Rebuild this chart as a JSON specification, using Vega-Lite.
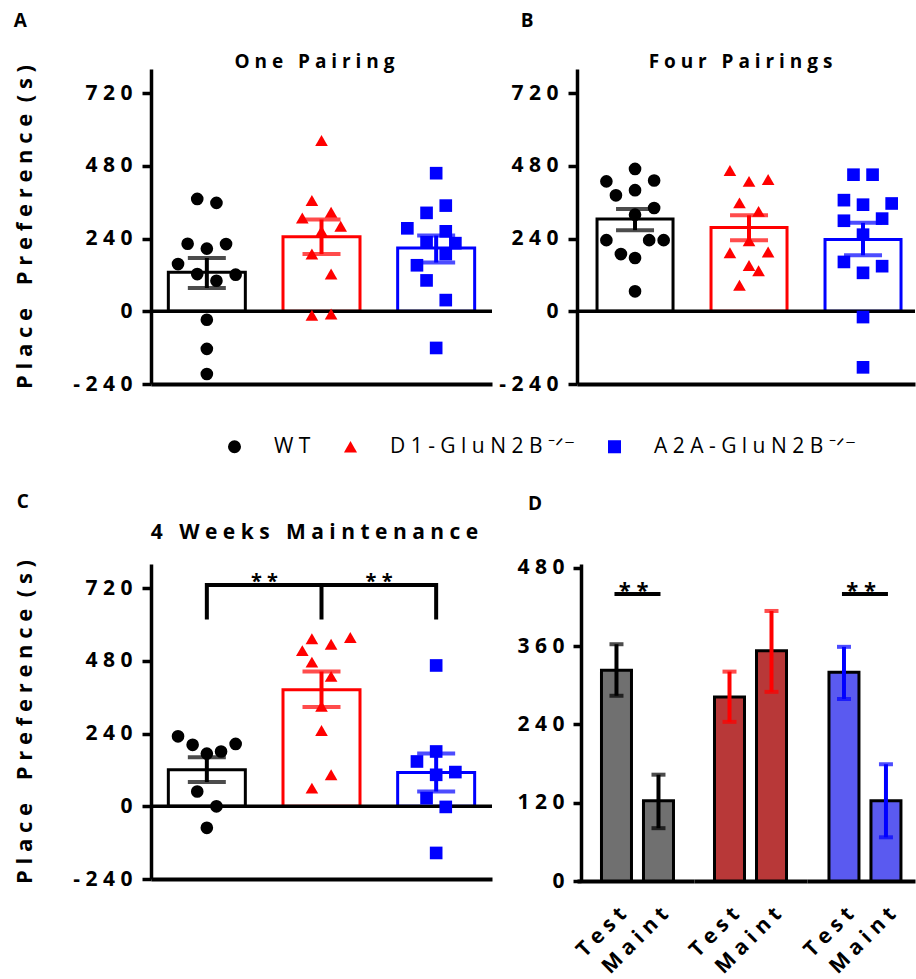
{
  "$schema": "https://vega.github.io/schema/vega-lite/v6.json",
  "padding": {"left": 13, "top": 12, "right": 0, "bottom": 0},
  "background": "white",
  "bounds": "flush",
  "columns": 2,
  "spacing": {"row": 180, "column": 85},
  "resolve": {"scale": {"x": "independent", "y": "independent", "color": "independent", "shape": "independent", "xOffset": "independent"}},
  "datasets": {
    "pts": [
      {"p":"A","g":"WT","v":371,"j":-0.25},{"p":"A","g":"WT","v":358,"j":0.25},{"p":"A","g":"WT","v":223,"j":-0.5},{"p":"A","g":"WT","v":207,"j":0},{"p":"A","g":"WT","v":222,"j":0.5},{"p":"A","g":"WT","v":156,"j":-0.75},{"p":"A","g":"WT","v":123,"j":-0.25},{"p":"A","g":"WT","v":101,"j":0.25},{"p":"A","g":"WT","v":121,"j":0.75},{"p":"A","g":"WT","v":-28,"j":0},{"p":"A","g":"WT","v":-124,"j":0},{"p":"A","g":"WT","v":-207,"j":0},
      {"p":"A","g":"D1","v":564,"j":0},{"p":"A","g":"D1","v":366,"j":-0.25},{"p":"A","g":"D1","v":308,"j":-0.5},{"p":"A","g":"D1","v":327,"j":0.25},{"p":"A","g":"D1","v":281,"j":0.5},{"p":"A","g":"D1","v":264,"j":0},{"p":"A","g":"D1","v":189,"j":-0.25},{"p":"A","g":"D1","v":123,"j":0.25},{"p":"A","g":"D1","v":-13,"j":-0.25},{"p":"A","g":"D1","v":-9,"j":0.25},
      {"p":"A","g":"A2A","v":456,"j":0},{"p":"A","g":"A2A","v":349,"j":0.25},{"p":"A","g":"A2A","v":325,"j":-0.25},{"p":"A","g":"A2A","v":274,"j":-0.75},{"p":"A","g":"A2A","v":264,"j":0.25},{"p":"A","g":"A2A","v":228,"j":-0.25},{"p":"A","g":"A2A","v":225,"j":0.5},{"p":"A","g":"A2A","v":189,"j":0.25},{"p":"A","g":"A2A","v":152,"j":-0.5},{"p":"A","g":"A2A","v":102,"j":-0.25},{"p":"A","g":"A2A","v":37,"j":0.25},{"p":"A","g":"A2A","v":-121,"j":0},
      {"p":"B","g":"WT","v":470,"j":0},{"p":"B","g":"WT","v":429,"j":-0.75},{"p":"B","g":"WT","v":432,"j":0.5},{"p":"B","g":"WT","v":400,"j":0},{"p":"B","g":"WT","v":383,"j":-0.5},{"p":"B","g":"WT","v":341,"j":0.5},{"p":"B","g":"WT","v":319,"j":0},{"p":"B","g":"WT","v":235,"j":-0.75},{"p":"B","g":"WT","v":235,"j":0.37},{"p":"B","g":"WT","v":235,"j":0.75},{"p":"B","g":"WT","v":189,"j":-0.37},{"p":"B","g":"WT","v":176,"j":0},{"p":"B","g":"WT","v":66,"j":0},
      {"p":"B","g":"D1","v":465,"j":-0.5},{"p":"B","g":"D1","v":429,"j":0},{"p":"B","g":"D1","v":435,"j":0.5},{"p":"B","g":"D1","v":358,"j":-0.25},{"p":"B","g":"D1","v":330,"j":0.25},{"p":"B","g":"D1","v":233,"j":0},{"p":"B","g":"D1","v":193,"j":-0.5},{"p":"B","g":"D1","v":196,"j":0.5},{"p":"B","g":"D1","v":151,"j":0},{"p":"B","g":"D1","v":134,"j":0.25},{"p":"B","g":"D1","v":86,"j":-0.25},
      {"p":"B","g":"A2A","v":451,"j":-0.25},{"p":"B","g":"A2A","v":451,"j":0.25},{"p":"B","g":"A2A","v":367,"j":-0.5},{"p":"B","g":"A2A","v":352,"j":0},{"p":"B","g":"A2A","v":356,"j":0.75},{"p":"B","g":"A2A","v":299,"j":-0.5},{"p":"B","g":"A2A","v":306,"j":0.5},{"p":"B","g":"A2A","v":253,"j":0},{"p":"B","g":"A2A","v":163,"j":-0.5},{"p":"B","g":"A2A","v":149,"j":0.5},{"p":"B","g":"A2A","v":127,"j":0},{"p":"B","g":"A2A","v":-19,"j":0},{"p":"B","g":"A2A","v":-185,"j":0},
      {"p":"C","g":"WT","v":231,"j":-0.75},{"p":"C","g":"WT","v":203,"j":-0.37},{"p":"C","g":"WT","v":174,"j":0},{"p":"C","g":"WT","v":181,"j":0.37},{"p":"C","g":"WT","v":206,"j":0.75},{"p":"C","g":"WT","v":49,"j":-0.25},{"p":"C","g":"WT","v":0,"j":0.25},{"p":"C","g":"WT","v":-71,"j":0},
      {"p":"C","g":"D1","v":553,"j":-0.25},{"p":"C","g":"D1","v":535,"j":0.25},{"p":"C","g":"D1","v":557,"j":0.75},{"p":"C","g":"D1","v":514,"j":-0.5},{"p":"C","g":"D1","v":476,"j":-0.25},{"p":"C","g":"D1","v":429,"j":0.25},{"p":"C","g":"D1","v":330,"j":0},{"p":"C","g":"D1","v":250,"j":0},{"p":"C","g":"D1","v":104,"j":0.25},{"p":"C","g":"D1","v":60,"j":-0.25},
      {"p":"C","g":"A2A","v":465,"j":0},{"p":"C","g":"A2A","v":181,"j":0},{"p":"C","g":"A2A","v":148,"j":-0.5},{"p":"C","g":"A2A","v":113,"j":0.5},{"p":"C","g":"A2A","v":104,"j":0},{"p":"C","g":"A2A","v":27,"j":-0.25},{"p":"C","g":"A2A","v":-2,"j":0.25},{"p":"C","g":"A2A","v":-154,"j":0}
    ],
    "bars": [
      {"p":"A","g":"WT","m":129,"lo":77,"hi":176},{"p":"A","g":"D1","m":246,"lo":189,"hi":303},{"p":"A","g":"A2A","m":209,"lo":161,"hi":250},
      {"p":"B","g":"WT","m":305,"lo":268,"hi":338},{"p":"B","g":"D1","m":277,"lo":235,"hi":317},{"p":"B","g":"A2A","m":237,"lo":185,"hi":292},
      {"p":"C","g":"WT","m":121,"lo":80,"hi":162},{"p":"C","g":"D1","m":385,"lo":328,"hi":445},{"p":"C","g":"A2A","m":112,"lo":49,"hi":174}
    ],
    "dbars": [
      {"g":"WT","c":"Test","m":323,"lo":284,"hi":363},{"g":"WT","c":"Maint","m":123,"lo":81,"hi":163},
      {"g":"D1","c":"Test","m":282,"lo":244,"hi":321},{"g":"D1","c":"Maint","m":353,"lo":290,"hi":414},
      {"g":"A2A","c":"Test","m":320,"lo":279,"hi":359},{"g":"A2A","c":"Maint","m":123,"lo":67,"hi":179}
    ],
    "bracket": [
      {"o":1,"g":"WT","y":617},{"o":2,"g":"WT","y":731},{"o":3,"g":"D1","y":731},{"o":4,"g":"D1","y":617},{"o":5,"g":"D1","y":731},{"o":6,"g":"A2A","y":731},{"o":7,"g":"A2A","y":617}
    ],
    "stars": [
      {"g":"WT","y":731,"t":"* *"},{"g":"D1","y":731,"t":"* *"}
    ],
    "dline": [
      {"g":"WT","c":"Test","y":440},{"g":"WT","c":"Maint","y":440},
      {"g":"A2A","c":"Test","y":440},{"g":"A2A","c":"Maint","y":440}
    ],
    "dstars": [
      {"g":"WT","c":"Test","y":440,"t":"* *"},{"g":"A2A","c":"Test","y":440,"t":"* *"}
    ],
    "zero": [{"z":0}]
  },
  "concat": [
    {
      "width": 341, "height": 315,
      "title": {"text": "A", "dx": 0, "offset": 21},
      "resolve": {"axis": {"x": "independent"}},
      "layer": [
        {
          "data": {"name": "bars"}, "transform": [{"filter": "datum.p == 'A'"}],
          "mark": {"type": "bar", "fill": "white", "strokeWidth": 3, "width": 77},
          "encoding": {
            "x": {"field": "g", "type": "nominal", "sort": null, "scale": {"domain": ["WT","D1","A2A"], "paddingInner": 0.33, "paddingOuter": 0.152}, "axis": {"orient": "bottom", "labels": false, "ticks": false, "title": null, "domainWidth": 4}},
            "y": {"field": "m", "type": "quantitative", "scale": {"domain": [-240, 800], "nice": false, "zero": false},
                  "axis": {"values": [-240,-120,0,120,240,360,480,600,720], "labelExpr": "datum.value % 240 == 0 ? join(split(toString(datum.value), ''), '\u00a0') : ''", "tickSize": {"condition": {"test": "datum.value % 240 != 0", "value": 5}, "value": 9}, "labelPadding": 10, "title": "P\u00a0l\u00a0a\u00a0c\u00a0e\u00a0\u00a0\u00a0\u00a0P\u00a0r\u00a0e\u00a0f\u00a0e\u00a0r\u00a0e\u00a0n\u00a0c\u00a0e\u00a0\u00a0(\u00a0s\u00a0)", "titleFontSize": 22, "titlePadding": 36}},
            "y2": {"datum": 0},
            "stroke": {"condition": [{"test": "datum.g == 'D1'", "value": "#ff0000"}, {"test": "datum.g == 'A2A'", "value": "#0000ff"}], "value": "#000000"}
          }
        },
        {
          "data": {"name": "zero"},
          "mark": {"type": "rule", "color": "black", "strokeWidth": 3.5},
          "encoding": {"y": {"field": "z", "type": "quantitative"}}
        },
        {
          "data": {"name": "pts"}, "transform": [{"filter": "datum.p == 'A'"}],
          "mark": {"type": "point", "filled": true, "size": 160, "opacity": 1, "strokeWidth": 0},
          "encoding": {
            "x": {"field": "g", "type": "nominal", "axis": {"orient": "top", "domain": false, "ticks": false, "labels": false, "title": "O\u00a0n\u00a0e\u00a0\u00a0\u00a0P\u00a0a\u00a0i\u00a0r\u00a0i\u00a0n\u00a0g", "titleFontSize": 19, "titlePadding": 2, "titleBaseline": "alphabetic", "titleX": 163, "titleAlign": "center"}},
            "xOffset": {"field": "j", "type": "quantitative", "scale": {"domain": [-1, 1], "nice": false, "zero": false}},
            "y": {"field": "v", "type": "quantitative"},
            "color": {"field": "g", "type": "nominal", "scale": {"domain": ["WT","D1","A2A"], "range": ["#000000","#ff0000","#0000ff"]},
                      "legend": {"orient": "none", "legendX": 73, "legendY": 367, "direction": "horizontal", "title": null, "labelLimit": 0, "labelExpr": "datum.label == 'WT' ? 'W\u00a0T' : datum.label == 'D1' ? 'D\u00a01\u00a0-\u00a0G\u00a0l\u00a0u\u00a0N\u00a02\u00a0B\u00a0\u207b\u141f\u207b' : 'A\u00a02\u00a0A\u00a0-\u00a0G\u00a0l\u00a0u\u00a0N\u00a02\u00a0B\u00a0\u207b\u141f\u207b'", "labelFont": "Open Sans", "labelFontSize": 21, "labelFontWeight": "normal", "labelColor": "black", "symbolSize": 170, "symbolOpacity": 1, "labelOffset": 29, "columnPadding": 29, "symbolStrokeWidth": 0}},
            "shape": {"field": "g", "type": "nominal", "scale": {"domain": ["WT","D1","A2A"], "range": ["circle","triangle-up","square"]},
                      "legend": {"orient": "none", "legendX": 73, "legendY": 367, "direction": "horizontal", "title": null, "labelLimit": 0, "labelExpr": "datum.label == 'WT' ? 'W\u00a0T' : datum.label == 'D1' ? 'D\u00a01\u00a0-\u00a0G\u00a0l\u00a0u\u00a0N\u00a02\u00a0B\u00a0\u207b\u141f\u207b' : 'A\u00a02\u00a0A\u00a0-\u00a0G\u00a0l\u00a0u\u00a0N\u00a02\u00a0B\u00a0\u207b\u141f\u207b'", "labelFont": "Open Sans", "labelFontSize": 21, "labelFontWeight": "normal", "labelColor": "black", "symbolSize": 170, "symbolOpacity": 1, "labelOffset": 29, "columnPadding": 29, "symbolStrokeWidth": 0}}
          }
        },
        {
          "data": {"name": "bars"}, "transform": [{"filter": "datum.p == 'A'"}],
          "mark": {"type": "rule", "strokeWidth": 4},
          "encoding": {
            "x": {"field": "g", "type": "nominal", "axis": null},
            "y": {"field": "lo", "type": "quantitative"}, "y2": {"field": "hi"},
            "stroke": {"condition": [{"test": "datum.g == 'D1'", "value": "#ff0000"}, {"test": "datum.g == 'A2A'", "value": "#0000ff"}], "value": "#000000"}
          }
        },
        {
          "data": {"name": "bars"}, "transform": [{"filter": "datum.p == 'A'"}],
          "mark": {"type": "tick", "filled": true, "thickness": 4, "size": 38},
          "encoding": {
            "x": {"field": "g", "type": "nominal", "axis": null},
            "y": {"field": "hi", "type": "quantitative"},
            "fill": {"condition": [{"test": "datum.g == 'D1'", "value": "#ff0000"}, {"test": "datum.g == 'A2A'", "value": "#0000ff"}], "value": "#000000"}
          }
        },
        {
          "data": {"name": "bars"}, "transform": [{"filter": "datum.p == 'A'"}],
          "mark": {"type": "tick", "filled": true, "thickness": 4, "size": 38},
          "encoding": {
            "x": {"field": "g", "type": "nominal", "axis": null},
            "y": {"field": "lo", "type": "quantitative"},
            "fill": {"condition": [{"test": "datum.g == 'D1'", "value": "#ff0000"}, {"test": "datum.g == 'A2A'", "value": "#0000ff"}], "value": "#000000"}
          }
        }
      ]
    },
    {
      "width": 338, "height": 315,
      "title": {"text": "B", "dx": 22, "offset": 21},
      "resolve": {"axis": {"x": "independent"}},
      "layer": [
        {
          "data": {"name": "bars"}, "transform": [{"filter": "datum.p == 'B'"}],
          "mark": {"type": "bar", "fill": "white", "strokeWidth": 3, "width": 76},
          "encoding": {
            "x": {"field": "g", "type": "nominal", "sort": null, "scale": {"domain": ["WT","D1","A2A"], "paddingInner": 0.33, "paddingOuter": 0.1475, "align": 0.59}, "axis": {"orient": "bottom", "labels": false, "ticks": false, "title": null, "domainWidth": 4}},
            "y": {"field": "m", "type": "quantitative", "scale": {"domain": [-240, 800], "nice": false, "zero": false},
                  "axis": {"values": [-240,-120,0,120,240,360,480,600,720], "labelExpr": "datum.value % 240 == 0 ? join(split(toString(datum.value), ''), '\u00a0') : ''", "tickSize": {"condition": {"test": "datum.value % 240 != 0", "value": 5}, "value": 9}, "labelPadding": 10, "title": null}},
            "y2": {"datum": 0},
            "stroke": {"condition": [{"test": "datum.g == 'D1'", "value": "#ff0000"}, {"test": "datum.g == 'A2A'", "value": "#0000ff"}], "value": "#000000"}
          }
        },
        {
          "data": {"name": "zero"},
          "mark": {"type": "rule", "color": "black", "strokeWidth": 3.5},
          "encoding": {"y": {"field": "z", "type": "quantitative"}}
        },
        {
          "data": {"name": "pts"}, "transform": [{"filter": "datum.p == 'B'"}],
          "mark": {"type": "point", "filled": true, "size": 160, "opacity": 1, "strokeWidth": 0},
          "encoding": {
            "x": {"field": "g", "type": "nominal", "axis": {"orient": "top", "domain": false, "ticks": false, "labels": false, "title": "F\u00a0o\u00a0u\u00a0r\u00a0\u00a0\u00a0P\u00a0a\u00a0i\u00a0r\u00a0i\u00a0n\u00a0g\u00a0s", "titleFontSize": 19, "titlePadding": 2, "titleBaseline": "alphabetic", "titleX": 163, "titleAlign": "center"}},
            "xOffset": {"field": "j", "type": "quantitative", "scale": {"domain": [-1, 1], "nice": false, "zero": false}},
            "y": {"field": "v", "type": "quantitative"},
            "color": {"field": "g", "type": "nominal", "scale": {"domain": ["WT","D1","A2A"], "range": ["#000000","#ff0000","#0000ff"]}, "legend": null},
            "shape": {"field": "g", "type": "nominal", "scale": {"domain": ["WT","D1","A2A"], "range": ["circle","triangle-up","square"]}, "legend": null}
          }
        },
        {
          "data": {"name": "bars"}, "transform": [{"filter": "datum.p == 'B'"}],
          "mark": {"type": "rule", "strokeWidth": 4},
          "encoding": {
            "x": {"field": "g", "type": "nominal", "axis": null},
            "y": {"field": "lo", "type": "quantitative"}, "y2": {"field": "hi"},
            "stroke": {"condition": [{"test": "datum.g == 'D1'", "value": "#ff0000"}, {"test": "datum.g == 'A2A'", "value": "#0000ff"}], "value": "#000000"}
          }
        },
        {
          "data": {"name": "bars"}, "transform": [{"filter": "datum.p == 'B'"}],
          "mark": {"type": "tick", "filled": true, "thickness": 4, "size": 38},
          "encoding": {
            "x": {"field": "g", "type": "nominal", "axis": null},
            "y": {"field": "hi", "type": "quantitative"},
            "fill": {"condition": [{"test": "datum.g == 'D1'", "value": "#ff0000"}, {"test": "datum.g == 'A2A'", "value": "#0000ff"}], "value": "#000000"}
          }
        },
        {
          "data": {"name": "bars"}, "transform": [{"filter": "datum.p == 'B'"}],
          "mark": {"type": "tick", "filled": true, "thickness": 4, "size": 38},
          "encoding": {
            "x": {"field": "g", "type": "nominal", "axis": null},
            "y": {"field": "lo", "type": "quantitative"},
            "fill": {"condition": [{"test": "datum.g == 'D1'", "value": "#ff0000"}, {"test": "datum.g == 'A2A'", "value": "#0000ff"}], "value": "#000000"}
          }
        }
      ]
    },
    {
      "width": 341, "height": 315,
      "title": {"text": "C", "dx": 3, "offset": 9},
      "resolve": {"axis": {"x": "independent"}},
      "layer": [
        {
          "data": {"name": "bars"}, "transform": [{"filter": "datum.p == 'C'"}],
          "mark": {"type": "bar", "fill": "white", "strokeWidth": 3, "width": 77},
          "encoding": {
            "x": {"field": "g", "type": "nominal", "sort": null, "scale": {"domain": ["WT","D1","A2A"], "paddingInner": 0.33, "paddingOuter": 0.152}, "axis": {"orient": "bottom", "labels": false, "ticks": false, "title": null, "domainWidth": 4}},
            "y": {"field": "m", "type": "quantitative", "scale": {"domain": [-240, 800], "nice": false, "zero": false},
                  "axis": {"values": [-240,-120,0,120,240,360,480,600,720], "labelExpr": "datum.value % 240 == 0 ? join(split(toString(datum.value), ''), '\u00a0') : ''", "tickSize": {"condition": {"test": "datum.value % 240 != 0", "value": 5}, "value": 9}, "labelPadding": 10, "title": "P\u00a0l\u00a0a\u00a0c\u00a0e\u00a0\u00a0\u00a0\u00a0P\u00a0r\u00a0e\u00a0f\u00a0e\u00a0r\u00a0e\u00a0n\u00a0c\u00a0e\u00a0\u00a0(\u00a0s\u00a0)", "titleFontSize": 22, "titlePadding": 36}},
            "y2": {"datum": 0},
            "stroke": {"condition": [{"test": "datum.g == 'D1'", "value": "#ff0000"}, {"test": "datum.g == 'A2A'", "value": "#0000ff"}], "value": "#000000"}
          }
        },
        {
          "data": {"name": "zero"},
          "mark": {"type": "rule", "color": "black", "strokeWidth": 3.5},
          "encoding": {"y": {"field": "z", "type": "quantitative"}}
        },
        {
          "data": {"name": "pts"}, "transform": [{"filter": "datum.p == 'C'"}],
          "mark": {"type": "point", "filled": true, "size": 160, "opacity": 1, "strokeWidth": 0},
          "encoding": {
            "x": {"field": "g", "type": "nominal", "axis": {"orient": "top", "domain": false, "ticks": false, "labels": false, "title": "4\u00a0\u00a0\u00a0W\u00a0e\u00a0e\u00a0k\u00a0s\u00a0\u00a0\u00a0M\u00a0a\u00a0i\u00a0n\u00a0t\u00a0e\u00a0n\u00a0a\u00a0n\u00a0c\u00a0e", "titleFontSize": 21, "titlePadding": 26, "titleBaseline": "alphabetic", "titleX": 163, "titleAlign": "center"}},
            "xOffset": {"field": "j", "type": "quantitative", "scale": {"domain": [-1, 1], "nice": false, "zero": false}},
            "y": {"field": "v", "type": "quantitative"},
            "color": {"field": "g", "type": "nominal", "scale": {"domain": ["WT","D1","A2A"], "range": ["#000000","#ff0000","#0000ff"]}, "legend": null},
            "shape": {"field": "g", "type": "nominal", "scale": {"domain": ["WT","D1","A2A"], "range": ["circle","triangle-up","square"]}, "legend": null}
          }
        },
        {
          "data": {"name": "bars"}, "transform": [{"filter": "datum.p == 'C'"}],
          "mark": {"type": "rule", "strokeWidth": 4},
          "encoding": {
            "x": {"field": "g", "type": "nominal", "axis": null},
            "y": {"field": "lo", "type": "quantitative"}, "y2": {"field": "hi"},
            "stroke": {"condition": [{"test": "datum.g == 'D1'", "value": "#ff0000"}, {"test": "datum.g == 'A2A'", "value": "#0000ff"}], "value": "#000000"}
          }
        },
        {
          "data": {"name": "bars"}, "transform": [{"filter": "datum.p == 'C'"}],
          "mark": {"type": "tick", "filled": true, "thickness": 4, "size": 38},
          "encoding": {
            "x": {"field": "g", "type": "nominal", "axis": null},
            "y": {"field": "hi", "type": "quantitative"},
            "fill": {"condition": [{"test": "datum.g == 'D1'", "value": "#ff0000"}, {"test": "datum.g == 'A2A'", "value": "#0000ff"}], "value": "#000000"}
          }
        },
        {
          "data": {"name": "bars"}, "transform": [{"filter": "datum.p == 'C'"}],
          "mark": {"type": "tick", "filled": true, "thickness": 4, "size": 38},
          "encoding": {
            "x": {"field": "g", "type": "nominal", "axis": null},
            "y": {"field": "lo", "type": "quantitative"},
            "fill": {"condition": [{"test": "datum.g == 'D1'", "value": "#ff0000"}, {"test": "datum.g == 'A2A'", "value": "#0000ff"}], "value": "#000000"}
          }
        },
        {
          "data": {"name": "bracket"},
          "mark": {"type": "line", "color": "black", "strokeWidth": 4, "strokeJoin": "miter", "strokeCap": "butt"},
          "encoding": {
            "x": {"field": "g", "type": "nominal", "axis": null},
            "y": {"field": "y", "type": "quantitative"},
            "order": {"field": "o", "type": "quantitative"}
          }
        },
        {
          "data": {"name": "stars"},
          "mark": {"type": "text", "fontSize": 20, "fontWeight": "bold", "baseline": "alphabetic", "dy": 3, "color": "black"},
          "encoding": {
            "x": {"field": "g", "type": "nominal", "bandPosition": 1.25, "axis": null},
            "y": {"field": "y", "type": "quantitative"},
            "text": {"field": "t"}
          }
        }
      ]
    },
    {
      "title": {"text": "D", "dx": 11, "offset": 43},
      "hconcat": [
        {
          "width": 117, "height": 317,
          "layer": [
            {
              "data": {"name": "dbars"}, "transform": [{"filter": "datum.g == 'WT'"}],
              "mark": {"type": "bar", "fill": "#707070", "stroke": "black", "strokeWidth": 3},
              "encoding": {
                "x": {"field": "c", "type": "nominal", "sort": null, "scale": {"domain": ["Test","Maint"], "paddingInner": 0.2857, "paddingOuter": 0.5355, "align": 0.544},
                      "axis": {"title": null, "ticks": false, "domainWidth": 4, "labelAngle": -45, "labelAlign": "right", "labelBaseline": "top", "labelPadding": 22, "labelOffset": -1, "labelOverlap": false, "labelExpr": "datum.value == 'Test' ? 'T\u00a0e\u00a0s\u00a0t' : 'M\u00a0a\u00a0i\u00a0n\u00a0t'"}},
                "y": {"field": "m", "type": "quantitative", "scale": {"domain": [0, 486], "nice": false, "zero": false},
                      "axis": {"values": [0,120,240,360,480], "labelExpr": "join(split(toString(datum.value), ''), '\u00a0')", "tickSize": 8, "labelPadding": 9, "title": null, "offset": -4}}
              }
            },
            {
              "data": {"name": "dbars"}, "transform": [{"filter": "datum.g == 'WT'"}],
              "mark": {"type": "rule", "color": "black", "strokeWidth": 4},
              "encoding": {"x": {"field": "c", "type": "nominal"}, "y": {"field": "lo", "type": "quantitative"}, "y2": {"field": "hi"}}
            },
            {
              "data": {"name": "dbars"}, "transform": [{"filter": "datum.g == 'WT'"}],
              "mark": {"type": "tick", "color": "black", "thickness": 4, "size": 14},
              "encoding": {"x": {"field": "c", "type": "nominal"}, "y": {"field": "hi", "type": "quantitative"}}
            },
            {
              "data": {"name": "dbars"}, "transform": [{"filter": "datum.g == 'WT'"}],
              "mark": {"type": "tick", "color": "black", "thickness": 4, "size": 14},
              "encoding": {"x": {"field": "c", "type": "nominal"}, "y": {"field": "lo", "type": "quantitative"}}
            },
            {
              "data": {"name": "dline"}, "transform": [{"filter": "datum.g == 'WT'"}],
              "mark": {"type": "line", "color": "black", "strokeWidth": 4, "strokeCap": "square"},
              "encoding": {"x": {"field": "c", "type": "nominal"}, "y": {"field": "y", "type": "quantitative"}}
            },
            {
              "data": {"name": "dstars"}, "transform": [{"filter": "datum.g == 'WT'"}],
              "mark": {"type": "text", "fontSize": 22, "fontWeight": "bold", "baseline": "alphabetic", "dy": 4, "color": "black"},
              "encoding": {"x": {"field": "c", "type": "nominal", "bandPosition": 1.07}, "y": {"field": "y", "type": "quantitative"}, "text": {"field": "t"}}
            }
          ]
        },
        {
          "width": 113, "height": 317,
          "layer": [
            {
              "data": {"name": "dbars"}, "transform": [{"filter": "datum.g == 'D1'"}],
              "mark": {"type": "bar", "fill": "#b83838", "stroke": "black", "strokeWidth": 3},
              "encoding": {
                "x": {"field": "c", "type": "nominal", "sort": null, "scale": {"domain": ["Test","Maint"], "paddingInner": 0.2857, "paddingOuter": 0.488},
                      "axis": {"title": null, "ticks": false, "domainWidth": 4, "labelAngle": -45, "labelAlign": "right", "labelBaseline": "top", "labelPadding": 22, "labelOffset": -1, "labelOverlap": false, "labelExpr": "datum.value == 'Test' ? 'T\u00a0e\u00a0s\u00a0t' : 'M\u00a0a\u00a0i\u00a0n\u00a0t'"}},
                "y": {"field": "m", "type": "quantitative", "scale": {"domain": [0, 486], "nice": false, "zero": false}, "axis": null}
              }
            },
            {
              "data": {"name": "dbars"}, "transform": [{"filter": "datum.g == 'D1'"}],
              "mark": {"type": "rule", "color": "#ff0000", "strokeWidth": 4},
              "encoding": {"x": {"field": "c", "type": "nominal"}, "y": {"field": "lo", "type": "quantitative"}, "y2": {"field": "hi"}}
            },
            {
              "data": {"name": "dbars"}, "transform": [{"filter": "datum.g == 'D1'"}],
              "mark": {"type": "tick", "color": "#ff0000", "thickness": 4, "size": 14},
              "encoding": {"x": {"field": "c", "type": "nominal"}, "y": {"field": "hi", "type": "quantitative"}}
            },
            {
              "data": {"name": "dbars"}, "transform": [{"filter": "datum.g == 'D1'"}],
              "mark": {"type": "tick", "color": "#ff0000", "thickness": 4, "size": 14},
              "encoding": {"x": {"field": "c", "type": "nominal"}, "y": {"field": "lo", "type": "quantitative"}}
            }
          ]
        },
        {
          "width": 108, "height": 317,
          "layer": [
            {
              "data": {"name": "dbars"}, "transform": [{"filter": "datum.g == 'A2A'"}],
              "mark": {"type": "bar", "fill": "#5a5af0", "stroke": "black", "strokeWidth": 3},
              "encoding": {
                "x": {"field": "c", "type": "nominal", "sort": null, "scale": {"domain": ["Test","Maint"], "paddingInner": 0.2857, "paddingOuter": 0.429, "align": 0.61},
                      "axis": {"title": null, "ticks": false, "domainWidth": 4, "labelAngle": -45, "labelAlign": "right", "labelBaseline": "top", "labelPadding": 22, "labelOffset": -1, "labelOverlap": false, "labelExpr": "datum.value == 'Test' ? 'T\u00a0e\u00a0s\u00a0t' : 'M\u00a0a\u00a0i\u00a0n\u00a0t'"}},
                "y": {"field": "m", "type": "quantitative", "scale": {"domain": [0, 486], "nice": false, "zero": false}, "axis": null}
              }
            },
            {
              "data": {"name": "dbars"}, "transform": [{"filter": "datum.g == 'A2A'"}],
              "mark": {"type": "rule", "color": "#0000ff", "strokeWidth": 4},
              "encoding": {"x": {"field": "c", "type": "nominal"}, "y": {"field": "lo", "type": "quantitative"}, "y2": {"field": "hi"}}
            },
            {
              "data": {"name": "dbars"}, "transform": [{"filter": "datum.g == 'A2A'"}],
              "mark": {"type": "tick", "color": "#0000ff", "thickness": 4, "size": 14},
              "encoding": {"x": {"field": "c", "type": "nominal"}, "y": {"field": "hi", "type": "quantitative"}}
            },
            {
              "data": {"name": "dbars"}, "transform": [{"filter": "datum.g == 'A2A'"}],
              "mark": {"type": "tick", "color": "#0000ff", "thickness": 4, "size": 14},
              "encoding": {"x": {"field": "c", "type": "nominal"}, "y": {"field": "lo", "type": "quantitative"}}
            },
            {
              "data": {"name": "dline"}, "transform": [{"filter": "datum.g == 'A2A'"}],
              "mark": {"type": "line", "color": "black", "strokeWidth": 4, "strokeCap": "square"},
              "encoding": {"x": {"field": "c", "type": "nominal"}, "y": {"field": "y", "type": "quantitative"}}
            },
            {
              "data": {"name": "dstars"}, "transform": [{"filter": "datum.g == 'A2A'"}],
              "mark": {"type": "text", "fontSize": 22, "fontWeight": "bold", "baseline": "alphabetic", "dy": 4, "color": "black"},
              "encoding": {"x": {"field": "c", "type": "nominal", "bandPosition": 1.07}, "y": {"field": "y", "type": "quantitative"}, "text": {"field": "t"}}
            }
          ]
        }
      ],
      "spacing": 0,
      "bounds": "flush",
      "resolve": {"scale": {"x": "independent", "y": "independent"}}
    }
  ],
  "config": {
    "view": {"stroke": null},
    "font": "Open Sans",
    "axis": {"domainColor": "#000000", "domainWidth": 3.5, "tickColor": "#000000", "tickWidth": 3.5, "labelColor": "#000000", "labelFont": "Open Sans", "labelFontSize": 21, "labelFontWeight": "bold", "titleColor": "#000000", "titleFont": "Open Sans", "titleFontWeight": "bold", "grid": false, "labelOverlap": false},
    "title": {"font": "Open Sans", "fontWeight": "bold", "fontSize": 19, "color": "#000000", "anchor": "start", "frame": "bounds", "baseline": "alphabetic"}
  }
}
